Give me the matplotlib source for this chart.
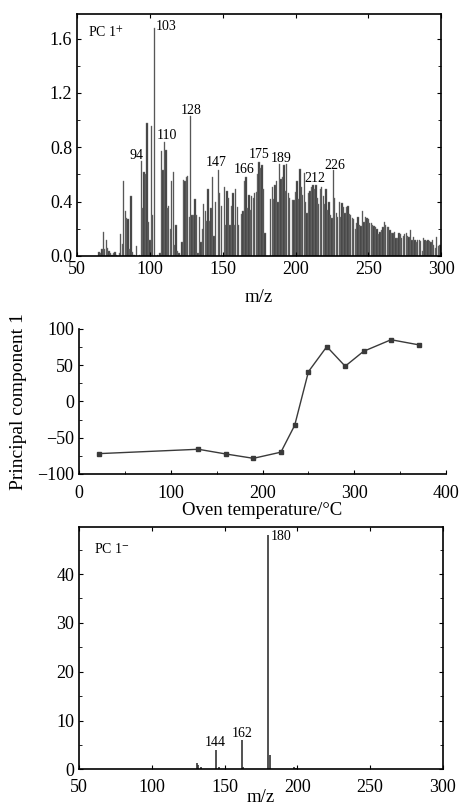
import matplotlib
matplotlib.use("Agg")
import matplotlib.pyplot as plt
from matplotlib.ticker import MultipleLocator
import numpy as np

plt.rcParams["font.family"] = ["Liberation Serif", "DejaVu Serif"]
plt.rcParams["mathtext.fontset"] = "stix"

# --- PC 1+ loading spectrum (m/z 65..300) ---
pos_start = 65
pos_loadings = [
    0.03, 0.02, 0.05, 0.18, 0.05, 0.12, 0.06, 0.04, 0.02, 0.01,   # 65-74
    0.02, 0.03, 0.01, 0.00, 0.02, 0.16, 0.09, 0.55, 0.33, 0.28,   # 75-84
    0.27, 0.05, 0.44, 0.03, 0.01, 0.00, 0.07, 0.00, 0.01, 0.70,   # 85-94
    0.35, 0.62, 0.60, 0.98, 0.25, 0.12, 0.96, 0.30, 1.68, 0.00,   # 95-104
    0.01, 0.00, 0.02, 0.77, 0.63, 0.84, 0.78, 0.35, 0.37, 0.20,   # 105-114
    0.55, 0.62, 0.08, 0.23, 0.04, 0.02, 0.01, 0.10, 0.56, 0.55,   # 115-124
    0.58, 0.59, 0.29, 1.03, 0.30, 0.30, 0.42, 0.30, 0.02, 0.29,   # 125-134
    0.10, 0.20, 0.38, 0.33, 0.26, 0.49, 0.26, 0.35, 0.58, 0.15,   # 135-144
    0.40, 0.00, 0.63, 0.46, 0.37, 0.00, 0.51, 0.23, 0.48, 0.43,   # 145-154
    0.23, 0.37, 0.46, 0.23, 0.49, 0.36, 0.23, 0.00, 0.31, 0.33,   # 155-164
    0.55, 0.58, 0.35, 0.45, 0.34, 0.44, 0.43, 0.46, 0.47, 0.60,   # 165-174
    0.69, 0.65, 0.67, 0.49, 0.17, 0.00, 0.00, 0.00, 0.42, 0.51,   # 175-184
    0.42, 0.52, 0.55, 0.40, 0.68, 0.57, 0.58, 0.67, 0.48, 0.68,   # 185-194
    0.46, 0.43, 0.00, 0.41, 0.41, 0.47, 0.55, 0.42, 0.64, 0.51,   # 195-204
    0.45, 0.61, 0.40, 0.32, 0.46, 0.48, 0.51, 0.52, 0.49, 0.52,   # 205-214
    0.43, 0.38, 0.49, 0.51, 0.44, 0.38, 0.49, 0.34, 0.40, 0.30,   # 215-224
    0.28, 0.63, 0.43, 0.32, 0.29, 0.40, 0.29, 0.39, 0.36, 0.32,   # 225-234
    0.36, 0.37, 0.31, 0.30, 0.28, 0.27, 0.20, 0.24, 0.29, 0.23,   # 235-244
    0.22, 0.33, 0.25, 0.29, 0.28, 0.27, 0.24, 0.24, 0.23, 0.22,   # 245-254
    0.21, 0.20, 0.16, 0.18, 0.19, 0.21, 0.25, 0.23, 0.21, 0.21,   # 255-264
    0.19, 0.17, 0.17, 0.18, 0.13, 0.13, 0.17, 0.16, 0.13, 0.15,   # 265-274
    0.16, 0.17, 0.15, 0.14, 0.19, 0.12, 0.14, 0.12, 0.10, 0.12,   # 275-284
    0.12, 0.11, 0.04, 0.13, 0.12, 0.11, 0.12, 0.11, 0.10, 0.12,   # 285-294
    0.08, 0.06, 0.14, 0.07, 0.08, 0.08,                           # 295-300
]
pos_mz = np.arange(pos_start, pos_start + len(pos_loadings))
pos_peaks = [94, 103, 110, 128, 147, 166, 175, 189, 212, 226]

# --- PC 1 scores vs oven temperature ---
temps = [22, 130, 160, 190, 220, 235, 250, 270, 290, 310, 340, 370]
scores = [-72, -66, -72.5, -78.5, -70, -33, 41, 75.5, 48.5, 69, 85, 78]

# --- PC 1- loading spectrum ---
neg_mz = [131, 132, 134, 144, 146, 162, 163, 180, 181, 198, 199]
neg_loadings = [1.2, 0.8, 0.4, 4.0, 0.5, 6.1, 0.4, 48.0, 3.0, 0.5, 0.3]
neg_peaks = [144, 162, 180]

fig = plt.figure(figsize=(4.59, 8.06), dpi=100)
ax1 = fig.add_axes([0.168, 0.6824, 0.793, 0.300])
ax2 = fig.add_axes([0.172, 0.412, 0.80, 0.18])
ax3 = fig.add_axes([0.172, 0.0455, 0.793, 0.301])

fs_tick = 13
fs_lab = 13.5
fs_ann = 10

# top spectrum
ax1.bar(pos_mz, pos_loadings, width=0.9, color="#3a3a3a", edgecolor="#808080", linewidth=0.3)
ax1.set_xlim(50, 300)
ax1.xaxis.set_major_locator(MultipleLocator(50))
ax1.yaxis.set_major_locator(MultipleLocator(0.4))
ax1.yaxis.set_minor_locator(MultipleLocator(0.2))
ax1.yaxis.set_major_formatter(lambda v, p: f"{v:.1f}")
ax1.set_ylim(0, 1.78)
ax1.tick_params(direction="in", top=True, right=True, labelsize=fs_tick, length=3)
ax1.tick_params(which="minor", direction="in", right=True, length=2)
ax1.set_xlabel("m/z", fontsize=fs_lab, labelpad=8)
ax1.text(0.03, 0.955, "PC 1$^{+}$", transform=ax1.transAxes, fontsize=fs_ann, va="top")
ann_pos = {94: (90.7, 0.74), 103: (104.3, 1.69), 110: (111.6, 0.886), 128: (128.3, 1.07),
           147: (145.5, 0.685), 166: (164.5, 0.636), 175: (175, 0.75), 189: (190, 0.714),
           212: (213.5, 0.57), 226: (227.2, 0.667)}
for p in pos_peaks:
    x, y = ann_pos[p]
    ha = "left" if p == 103 else "center"
    ax1.text(x, y, str(p), fontsize=fs_ann, ha=ha, va="center")

# middle scores
ax2.plot(temps, scores, color="#3a3a3a", linewidth=1.0, marker="s", markersize=2.2)
ax2.set_xlim(0, 400)
ax2.set_ylim(-100, 100)
ax2.xaxis.set_major_locator(MultipleLocator(100))
ax2.xaxis.set_minor_locator(MultipleLocator(50))
ax2.yaxis.set_major_locator(MultipleLocator(50))
ax2.yaxis.set_minor_locator(MultipleLocator(25))
ax2.spines["top"].set_visible(False)
ax2.spines["right"].set_visible(False)
ax2.tick_params(direction="in", labelsize=fs_tick, length=3)
ax2.tick_params(axis="x", pad=8)
ax2.tick_params(which="minor", direction="in", length=2)
ax2.set_xlabel("Oven temperature/°C", fontsize=fs_lab, labelpad=0)
ax2.set_ylabel("Principal component 1", fontsize=fs_lab + 0.5, labelpad=7)

# bottom spectrum
ax3.vlines(neg_mz, 0, neg_loadings, color="#333333", linewidth=1.2)
ax3.set_xlim(50, 300)
ax3.set_ylim(0, 49.7)
ax3.xaxis.set_major_locator(MultipleLocator(50))
ax3.yaxis.set_major_locator(MultipleLocator(10))
ax3.yaxis.set_minor_locator(MultipleLocator(5))
ax3.tick_params(direction="in", top=True, right=True, labelsize=fs_tick, length=3)
ax3.tick_params(axis="x", pad=7)
ax3.tick_params(which="minor", direction="in", right=True, length=2)
ax3.set_xlabel("m/z", fontsize=fs_lab, labelpad=-5)
ax3.text(0.04, 0.91, "PC 1$^{-}$", transform=ax3.transAxes, fontsize=fs_ann, va="center")
ann_neg = {144: (143.4, 5.4), 162: (162.4, 7.4), 180: (181.8, 47.6)}
for p in neg_peaks:
    x, y = ann_neg[p]
    ha = "left" if p == 180 else "center"
    ax3.text(x, y, str(p), fontsize=fs_ann, ha=ha, va="center")

for ax in (ax1, ax2, ax3):
    for s in ax.spines.values():
        s.set_linewidth(1.2)

fig.savefig("out.png", dpi=100)
